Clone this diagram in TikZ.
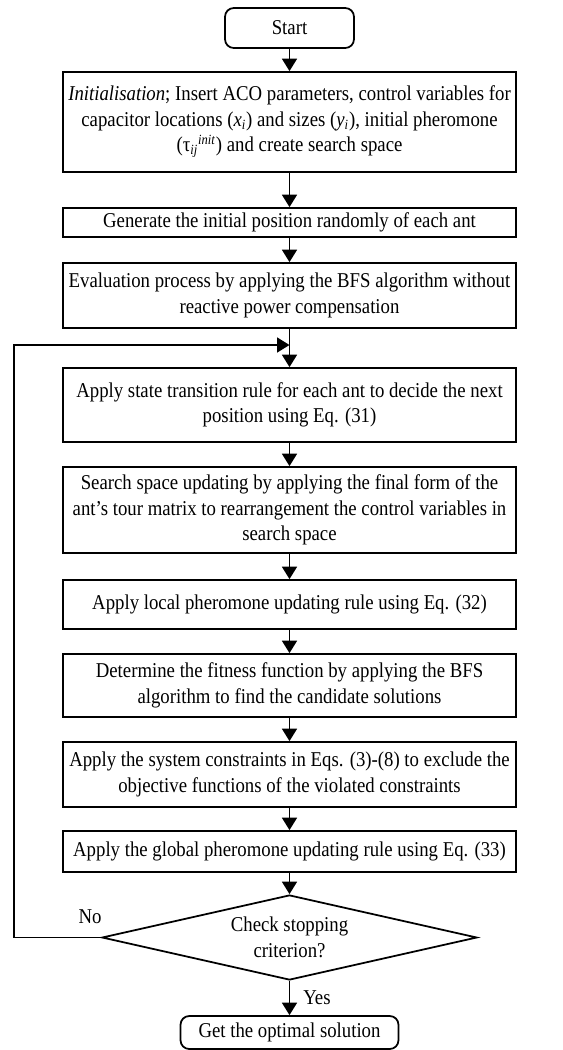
\documentclass[tikz,border=0pt]{standalone}
\usepackage{fontspec}
\setmainfont{Liberation Serif}[FakeStretch=0.89]
\usetikzlibrary{shapes.geometric,arrows.meta}
\tikzset{
% Three node styles for the flowchart: process, terminal and decision
process box/.style={rectangle,draw,line width=1pt,minimum width=9.06cm,inner sep=1pt,align=center},
terminal box/.style={rectangle,draw,line width=1pt,rounded corners=5,inner sep=1pt,align=center},
decision node/.style={diamond,draw,line width=1pt,aspect=4.4,inner sep=0pt,align=center,minimum width=7.5cm,minimum height=1.7cm},
flow/.style={line width=1pt,-{Triangle[width=0.3cm,length=0.25cm]}}
}

\begin{document}
\begin{tikzpicture}[font=\fontsize{12}{14.5}\selectfont]
\useasboundingbox (0,0) rectangle (11.26,-21);
% The boxes
\node(start)[terminal box,minimum width=2.58cm,minimum height=0.8cm] at (5.79,-0.56){Start};
\node(init)[process box,minimum height=2.0cm] at (5.79,-2.44){\textit{Initialisation}; Insert ACO parameters, control variables for\\capacitor locations (\textit{x}\textsubscript{\textit{i}}) and sizes (\textit{y}\textsubscript{\textit{i}}), initial pheromone\\(τ\textsubscript{\textit{ij}}\textsuperscript{\textit{init}}) and create search space};
\node(gen)[process box,minimum height=0.58cm] at (5.79,-4.45){Generate the initial position randomly of each ant};
\node(eval)[process box,minimum height=1.3cm] at (5.79,-5.91){Evaluation process by applying the BFS algorithm without\\reactive power compensation};
\node(state)[process box,minimum height=1.48cm] at (5.79,-8.10){Apply state transition rule for each ant to decide the next\\position using Eq. (31)};
\node(search)[process box,minimum height=1.72cm] at (5.79,-10.20){Search space updating by applying the final form of the\\ant's tour matrix to rearrangement the control variables in\\search space};
\node(local)[process box,minimum height=0.98cm] at (5.79,-12.09){Apply local pheromone updating rule using Eq. (32)};
\node(fit)[process box,minimum height=1.26cm] at (5.79,-13.71){Determine the fitness function by applying the BFS\\algorithm to find the candidate solutions};
\node(cons)[process box,minimum height=1.3cm] at (5.79,-15.49){Apply the system constraints in Eqs. (3)-(8) to exclude the\\objective functions of the violated constraints};
\node(glob)[process box,minimum height=0.82cm] at (5.79,-17.03){Apply the global pheromone updating rule using Eq. (33)};
\node(check)[decision node] at (5.79,-18.75){Check stopping\\criterion?};
\node(final)[terminal box,minimum width=4.36cm,minimum height=0.66cm] at (5.79,-20.65){Get the optimal solution};
\coordinate(join) at (5.79,-6.90);
% The arrows
\draw[flow] (start) -- (init);
\draw[flow] (init) -- (gen);
\draw[flow] (gen) -- (eval);
\draw[line width=1pt] (eval) -- (join);
\draw[flow] (join) -- (state);
\draw[flow] (state) -- (search);
\draw[flow] (search) -- (local);
\draw[flow] (local) -- (fit);
\draw[flow] (fit) -- (cons);
\draw[flow] (cons) -- (glob);
\draw[flow] (glob) -- (check);
\draw[flow] (check) -- node[right,xshift=4pt]{Yes} (final);
% loop back when not stopping
\draw[flow] (check.west) -- (0.28,-18.75) |- (join);
\node(no) at (1.8,-18.34){No};
\end{tikzpicture}
\end{document}
